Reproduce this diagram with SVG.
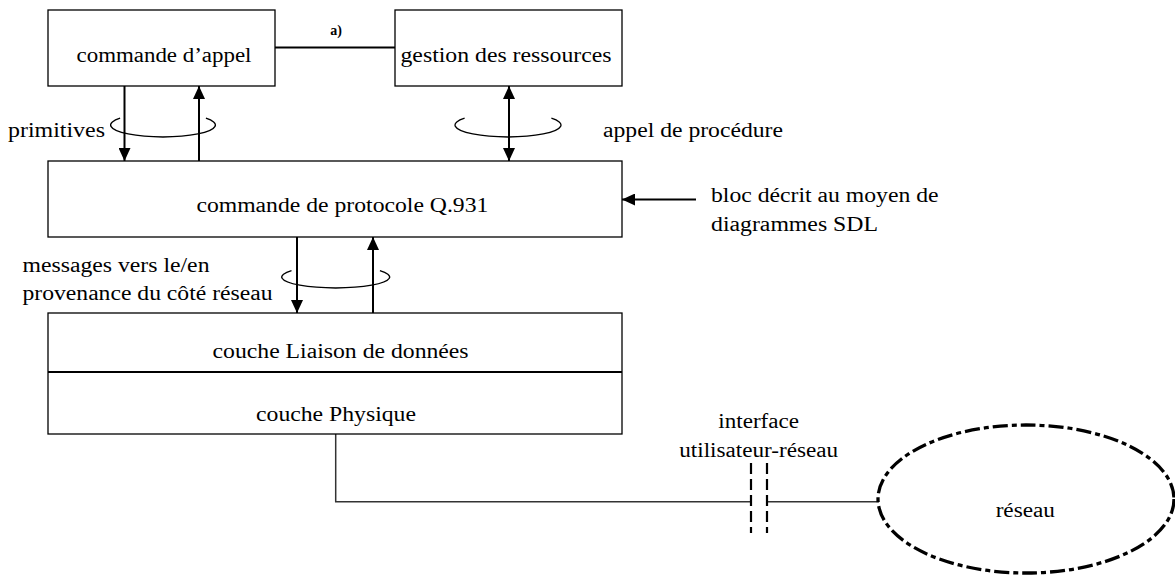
<svg xmlns="http://www.w3.org/2000/svg" width="1175" height="576" viewBox="0 0 1175 576">
  <defs>
    <marker id="head" markerUnits="userSpaceOnUse" markerWidth="14" markerHeight="12" refX="13" refY="6" orient="auto-start-reverse">
      <path d="M0,0 L13,6 L0,12 z" fill="#000"/>
    </marker>
    <style>
      text { font-family: "Liberation Serif", "Times New Roman", serif; font-size: 20.5px; fill: #000; }
      .mid { text-anchor: middle; }
      .box { fill: #fff; stroke: #000; stroke-width: 1.3; }
      .flow { fill: none; stroke: #000; stroke-width: 2; }
      .loop { fill: none; stroke: #000; stroke-width: 1.3; }
      .wire { fill: none; stroke: #333; stroke-width: 1.5; }
      .cut { fill: none; stroke: #000; stroke-width: 2.2; stroke-dasharray: 11 5; }
      .note { font-size: 14px; font-weight: bold; }
    </style>
  </defs>
  <rect width="1175" height="576" fill="#fff"/>

  <!-- connectors -->
  <g id="connectors">
    <line class="flow" x1="275" y1="47.5" x2="395" y2="47.5"/>
    <!-- primitives -->
    <line class="flow" x1="124.5" y1="86" x2="124.5" y2="161" marker-end="url(#head)"/>
    <line class="flow" x1="199" y1="161" x2="199" y2="86" marker-end="url(#head)"/>
    <path class="loop" d="M120.1,118.1 A52.4,12 0 1 0 205.9,118.1"/>
    <!-- procedure call -->
    <line class="flow" x1="509" y1="86" x2="509" y2="161" marker-start="url(#head)" marker-end="url(#head)"/>
    <path class="loop" d="M464.6,118.1 A53,12 0 1 0 551.4,118.1"/>
    <!-- messages -->
    <line class="flow" x1="297" y1="237" x2="297" y2="313" marker-end="url(#head)"/>
    <line class="flow" x1="373" y1="313" x2="373" y2="237" marker-end="url(#head)"/>
    <path class="loop" d="M291.5,270.7 A54,11 0 1 0 379.9,270.7"/>
    <!-- SDL pointer -->
    <line class="flow" x1="696" y1="199.5" x2="622" y2="199.5" marker-end="url(#head)"/>
    <!-- physical link to the network -->
    <polyline class="wire" points="335.7,434 335.7,501.7 751,501.7"/>
    <line class="wire" x1="767" y1="501.7" x2="879" y2="501.7"/>
    <line class="cut" x1="751" y1="463" x2="751" y2="533"/>
    <line class="cut" x1="767" y1="463" x2="767" y2="533"/>
  </g>

  <g id="call-control">
    <rect class="box" x="48" y="10" width="227" height="76"/>
    <text class="mid" x="164" y="61.5" textLength="175" lengthAdjust="spacingAndGlyphs">commande d’appel</text>
  </g>

  <g id="resource-mgmt">
    <rect class="box" x="395" y="10" width="227" height="76"/>
    <text class="mid" x="506" y="61.5" textLength="211" lengthAdjust="spacingAndGlyphs">gestion des ressources</text>
  </g>

  <g id="link-label">
    <text class="note mid" x="336" y="35">a)</text>
  </g>

  <g id="q931">
    <rect class="box" x="48" y="161" width="574" height="76"/>
    <text class="mid" x="342.4" y="211.5" textLength="292" lengthAdjust="spacingAndGlyphs">commande de protocole Q.931</text>
  </g>

  <g id="layers">
    <rect class="box" x="48" y="313" width="574" height="121"/>
    <line x1="48" y1="372" x2="622" y2="372" stroke="#000" stroke-width="2"/>
    <text class="mid" x="340.6" y="358" textLength="256" lengthAdjust="spacingAndGlyphs">couche Liaison de données</text>
    <text class="mid" x="336" y="420.5" textLength="160" lengthAdjust="spacingAndGlyphs">couche Physique</text>
  </g>

  <g id="network">
    <ellipse cx="1026" cy="499" rx="148" ry="74" fill="none" stroke="#000" stroke-width="3.3" stroke-dasharray="15 4 5 4"/>
    <text class="mid" x="1025.3" y="517" textLength="59.3" lengthAdjust="spacingAndGlyphs">réseau</text>
  </g>

  <g id="labels">
    <text x="8" y="137" textLength="97" lengthAdjust="spacingAndGlyphs">primitives</text>
    <text x="603" y="137" textLength="180" lengthAdjust="spacingAndGlyphs">appel de procédure</text>
    <text x="711" y="201.5" textLength="227.6" lengthAdjust="spacingAndGlyphs">bloc décrit au moyen de</text>
    <text x="711" y="231" textLength="167" lengthAdjust="spacingAndGlyphs">diagrammes SDL</text>
    <text x="22.5" y="272" textLength="187" lengthAdjust="spacingAndGlyphs">messages vers le/en</text>
    <text x="22.5" y="300" textLength="250" lengthAdjust="spacingAndGlyphs">provenance du côté réseau</text>
    <text class="mid" x="758.7" y="428" textLength="80.7" lengthAdjust="spacingAndGlyphs">interface</text>
    <text class="mid" x="758.7" y="456.5" textLength="159" lengthAdjust="spacingAndGlyphs">utilisateur-réseau</text>
  </g>
</svg>
